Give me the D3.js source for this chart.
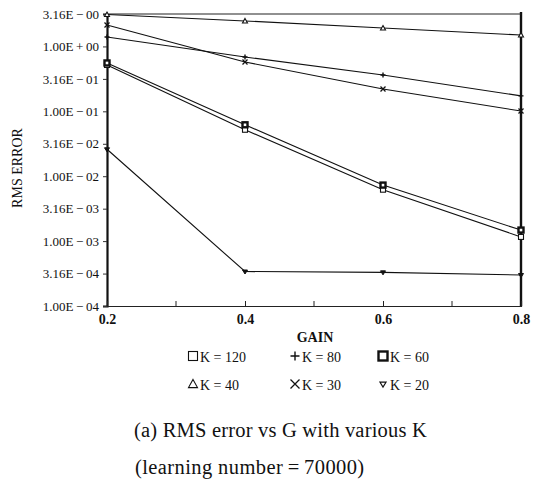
<!DOCTYPE html>
<html>
<head>
<meta charset="utf-8">
<script src="https://cdn.jsdelivr.net/npm/d3@7"></script>
<style>
  body { margin: 0; background: #fff; }
  svg { display: block; }
  text { font-family: "Liberation Serif", "DejaVu Serif", serif; fill: #111; }
</style>
</head>
<body>
<div id="chart"></div>
<script>
// values
const gains = [0.2, 0.4, 0.6, 0.8];
const k120 = [0.518, 0.052, 0.0062, 0.00116];
const k80 = [1.40, 0.687, 0.363, 0.173];
const k60 = [0.556, 0.062, 0.0073, 0.00148];
const k40 = [3.10, 2.47, 1.92, 1.50];
const k30 = [2.14, 0.575, 0.221, 0.101];
const k20 = [0.026, 0.00034, 0.00033, 0.00030];

const yTickValues = [3.16, 1, 0.316, 0.1, 0.0316, 0.01, 0.00316, 0.001, 0.000316, 0.0001];
const yTickLabels = ["3.16E\u2009\u2212\u200900", "1.00E\u2009+\u200900", "3.16E\u2009\u2212\u200901", "1.00E\u2009\u2212\u200901",
  "3.16E\u2009\u2212\u200902", "1.00E\u2009\u2212\u200902", "3.16E\u2009\u2212\u200903", "1.00E\u2009\u2212\u200903",
  "3.16E\u2009\u2212\u200904", "1.00E\u2009\u2212\u200904"];
const xTickValues = [0.2, 0.4, 0.6, 0.8];
const xMinorTicks = [0.3, 0.5, 0.7];

const series = [
  { name: "K = 120", values: k120, symbol: "square" },
  { name: "K = 80", values: k80, symbol: "plus" },
  { name: "K = 60", values: k60, symbol: "boldsquare" },
  { name: "K = 40", values: k40, symbol: "triangle" },
  { name: "K = 30", values: k30, symbol: "cross" },
  { name: "K = 20", values: k20, symbol: "downtri" }
];

const margin = { top: 14, right: 18, bottom: 177, left: 107 };
const width = 539 - margin.left - margin.right;
const height = 483 - margin.top - margin.bottom;

const svg = d3.select("#chart")
  .append("svg")
  .attr("width", 539)
  .attr("height", 483);

const g = svg.append("g")
  .attr("transform", `translate(${margin.left},${margin.top})`);

const x = d3.scaleLinear().domain([0.2, 0.8]).range([0, width]);
const y = d3.scaleLog().domain([0.0001, 3.16]).range([height, 0]);

// y axis (left)
const yAxis = d3.axisLeft(y)
  .tickValues(yTickValues)
  .tickSize(4)
  .tickFormat((d, i) => yTickLabels[i]);
const ya = g.append("g").call(yAxis);
ya.select(".domain").attr("stroke-width", 2.2).attr("stroke", "#111");
ya.selectAll(".tick line").attr("stroke", "#333").attr("stroke-width", 1);
ya.selectAll(".tick text").attr("font-size", "13px").attr("dx", "-1px").attr("fill", "#111");

// right border
g.append("line")
  .attr("x1", width).attr("x2", width)
  .attr("y1", -2).attr("y2", height)
  .attr("stroke", "#111").attr("stroke-width", 2.4);

// top border
g.append("line")
  .attr("x1", 2).attr("x2", width)
  .attr("y1", 0).attr("y2", 0)
  .attr("stroke", "#222").attr("stroke-width", 1.2);

// x axis (bottom), ticks point up
const xAxis = d3.axisBottom(x)
  .tickValues(xTickValues)
  .tickSize(-5)
  .tickFormat(d3.format(".1f"));
const xa = g.append("g").attr("transform", `translate(0,${height})`).call(xAxis);
xa.select(".domain").attr("stroke", "#222").attr("stroke-width", 1.2);
xa.selectAll(".tick line").attr("stroke", "#222");
xa.selectAll(".tick text").attr("font-size", "14px").attr("font-weight", "bold").attr("dy", "1.05em").attr("fill", "#111");

g.append("g").selectAll("line")
  .data(xMinorTicks)
  .enter().append("line")
  .attr("x1", d => x(d)).attr("x2", d => x(d))
  .attr("y1", height).attr("y2", height - 5)
  .attr("stroke", "#222");

// axis titles
g.append("text")
  .attr("x", x(0.5) + 1)
  .attr("y", height + 36)
  .attr("text-anchor", "middle")
  .attr("font-size", "14px")
  .attr("font-weight", "bold")
  .text("GAIN");

svg.append("text")
  .attr("transform", "translate(22,168) rotate(-90)")
  .attr("text-anchor", "middle")
  .attr("font-size", "14px")
  .text("RMS ERROR");

// lines
const line = d3.line()
  .x((d, i) => x(gains[i]))
  .y(d => y(d));

g.append("g").selectAll("path")
  .data(series)
  .enter().append("path")
  .attr("d", d => line(d.values))
  .attr("fill", "none")
  .attr("stroke", "#111")
  .attr("stroke-width", 1.1);

// marker shapes
function drawSymbol(sel, type, s) {
  if (type === "square") {
    sel.append("rect").attr("x", -s).attr("y", -s).attr("width", 2 * s).attr("height", 2 * s)
      .attr("fill", "#fff").attr("stroke", "#111").attr("stroke-width", 1.1);
  } else if (type === "boldsquare") {
    sel.append("rect").attr("x", -s).attr("y", -s).attr("width", 2 * s).attr("height", 2 * s)
      .attr("fill", "#fff").attr("stroke", "#111").attr("stroke-width", 2.4);
  } else if (type === "plus") {
    sel.append("path").attr("d", `M${-s},0H${s}M0,${-s}V${s}`)
      .attr("stroke", "#111").attr("stroke-width", 1.4);
  } else if (type === "cross") {
    sel.append("path").attr("d", `M${-s},${-s}L${s},${s}M${-s},${s}L${s},${-s}`)
      .attr("stroke", "#111").attr("stroke-width", 1.3);
  } else if (type === "triangle") {
    sel.append("path").attr("d", `M0,${-s}L${s},${s * 0.8}L${-s},${s * 0.8}Z`)
      .attr("fill", "#fff").attr("stroke", "#111").attr("stroke-width", 1.1);
  } else if (type === "downtri") {
    sel.append("path").attr("d", `M${-s},${-s * 0.6}L${s},${-s * 0.6}L0,${s}Z`)
      .attr("fill", "#111").attr("stroke", "#111").attr("stroke-width", 1);
  } else if (type === "legendtri") {
    sel.append("path").attr("d", `M${-s},${-s * 0.6}L${s},${-s * 0.6}L0,${s}Z`)
      .attr("fill", "none").attr("stroke", "#111").attr("stroke-width", 1.2);
  }
}

series.forEach(sr => {
  sr.values.forEach((v, i) => {
    const m = g.append("g").attr("transform", `translate(${x(gains[i])},${y(v)})`);
    drawSymbol(m, sr.symbol, 2.5);
  });
});

// legend
const legendCols = [188, 290, 378];
const legendRows = [357, 385];
series.forEach((sr, i) => {
  const lx = legendCols[i % 3];
  const ly = legendRows[Math.floor(i / 3)];
  const item = svg.append("g").attr("transform", `translate(${lx},${ly})`);
  const m = item.append("g").attr("transform", "translate(5,-1)");
  drawSymbol(m, sr.symbol === "downtri" ? "legendtri" : sr.symbol, sr.symbol === "downtri" ? 3 : 4.5);
  item.append("text")
    .attr("x", 12)
    .attr("y", 5)
    .attr("font-size", "14px")
    .text(sr.name);
});

// caption
svg.append("text")
  .attr("x", 134).attr("y", 437)
  .attr("font-size", "20.5px")
  .attr("letter-spacing", "0.2px")
  .text("(a)  RMS error vs G with various K");
svg.append("text")
  .attr("x", 135).attr("y", 474)
  .attr("font-size", "20.5px")
  .attr("letter-spacing", "0.4px")
  .text("(learning number\u2009=\u200970000)");
</script>
</body>
</html>
